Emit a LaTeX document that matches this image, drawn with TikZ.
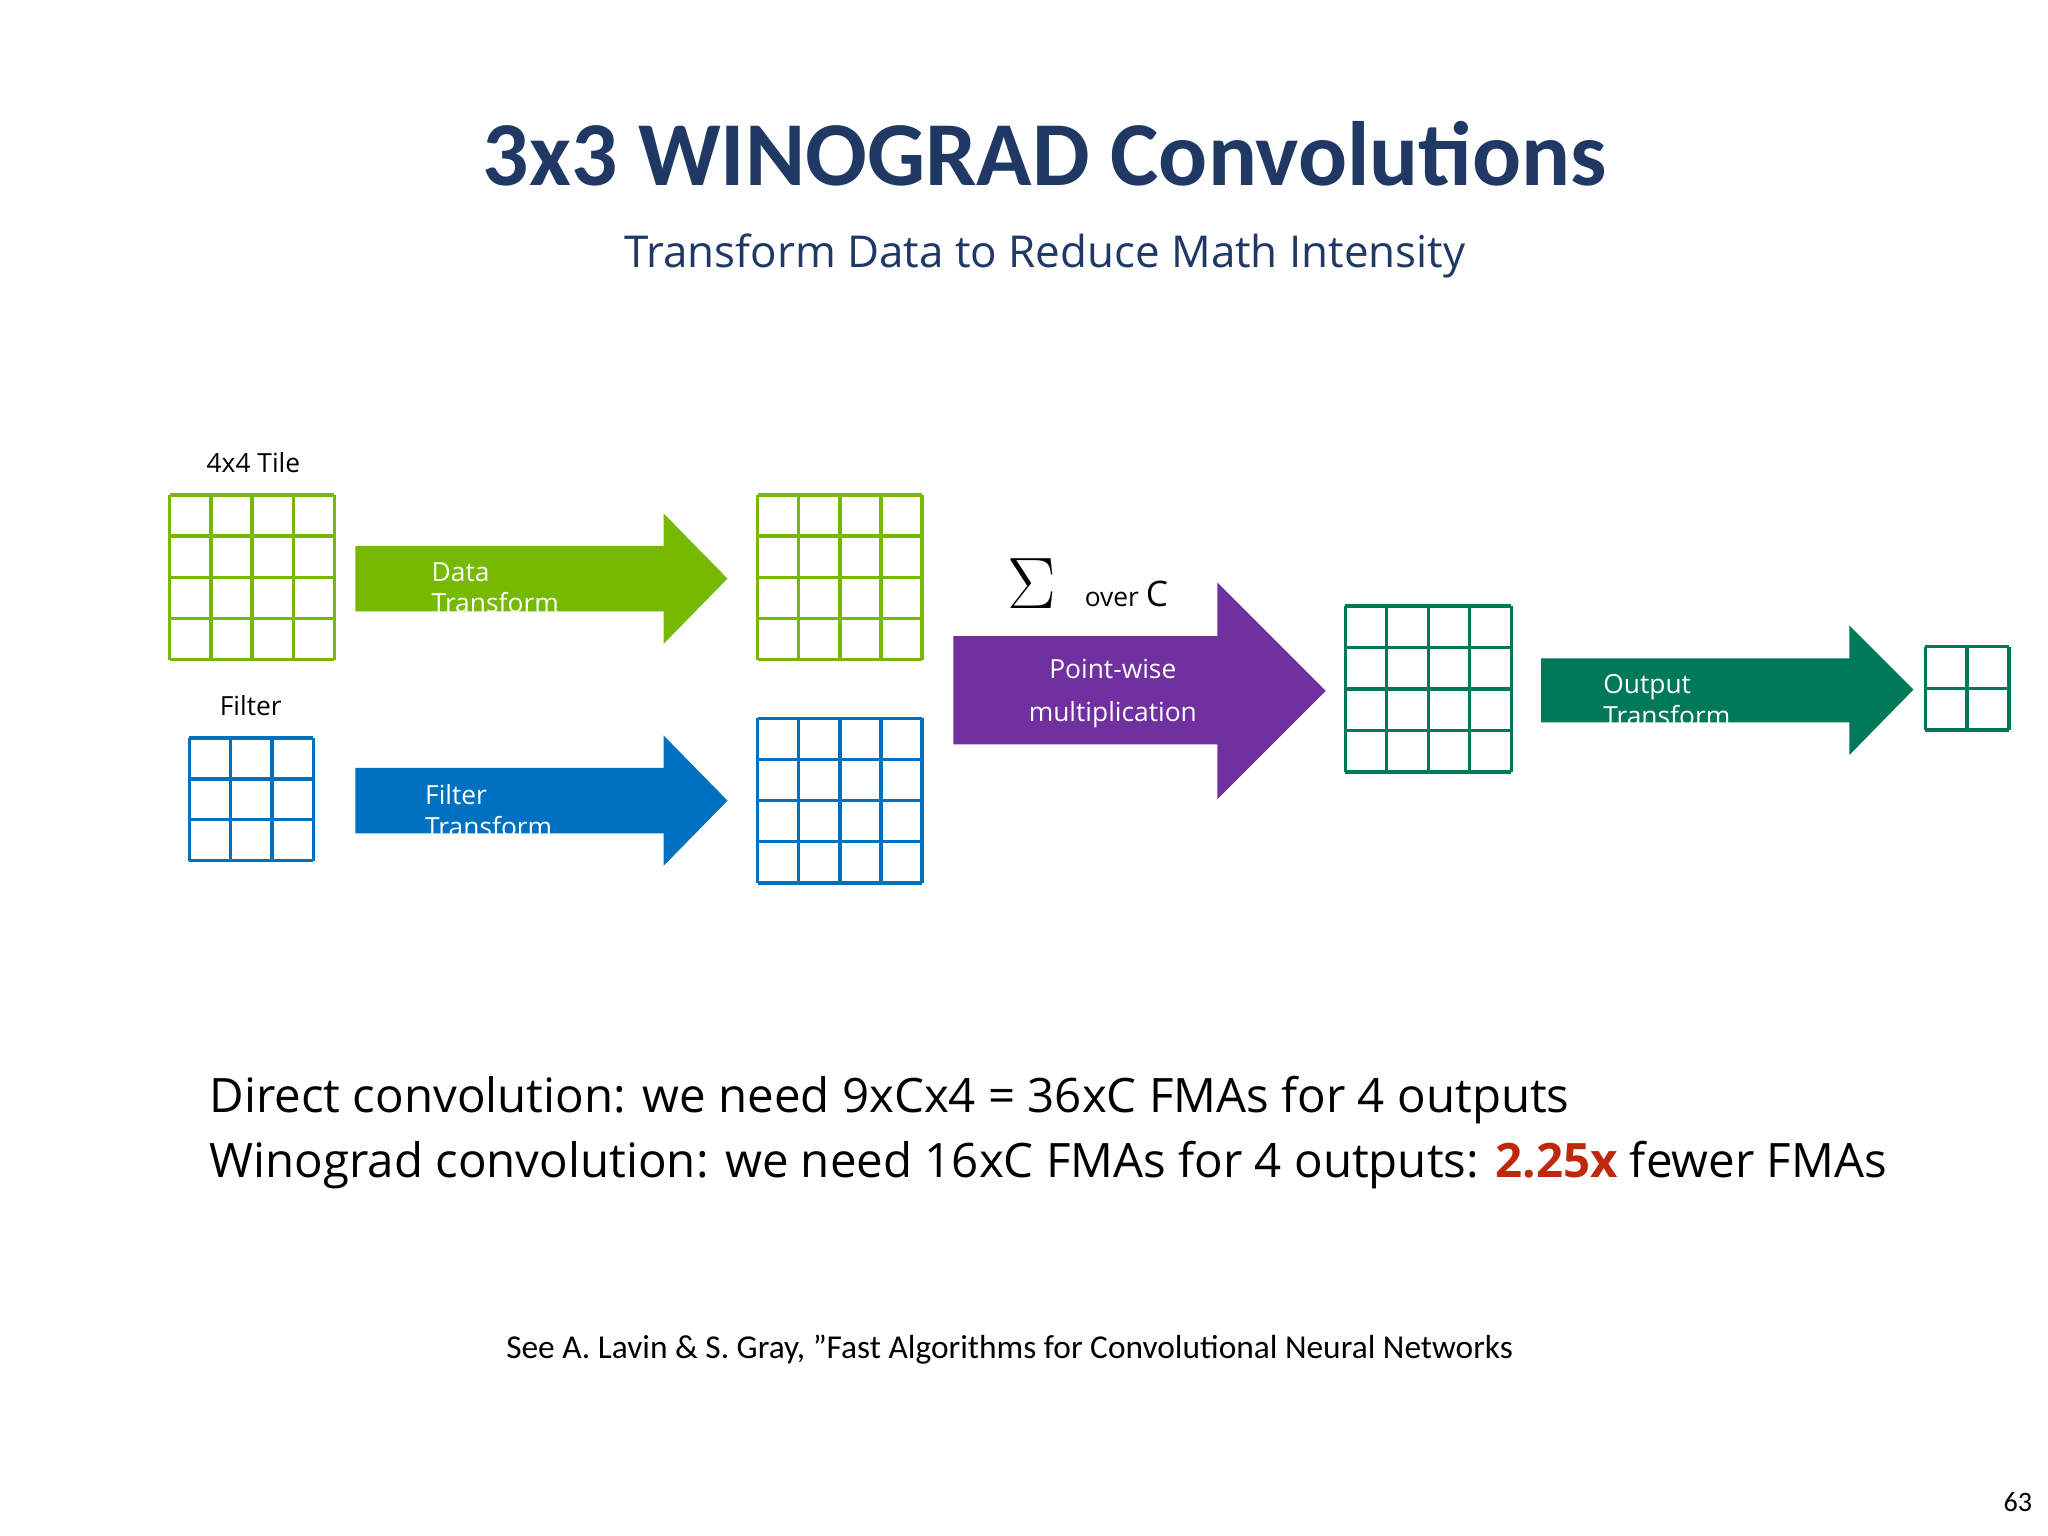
\documentclass[tikz,border=0pt]{standalone}
\usepackage{fontspec}
\setmainfont{Carlito}
\newfontfamily\osans{Open Sans}
\begin{document}
\definecolor{tgreen}{HTML}{76B900}
\definecolor{tblue}{HTML}{0070C0}
\definecolor{tpurple}{HTML}{7030A0}
\definecolor{tdgreen}{HTML}{00795A}
\definecolor{ttitle}{HTML}{1F3864}
\definecolor{tred}{HTML}{C0280E}
\begin{tikzpicture}[x=0.013061cm,y=-0.013061cm,
  gridl/.style={line width=2.6pt*0.37},
  lbl/.style={font=\fontsize{8}{9}\selectfont,text=white,anchor=west,inner sep=0},
  big/.style={font=\osans\fontsize{13.5}{16}\selectfont,anchor=west,inner sep=0}]
\useasboundingbox (0,0) rectangle (1568,1176);
\fill[white] (0,0) rectangle (1568,1176);
\newcommand\mygrid[6]{% x0 y0 x1 y1 n color
  \draw[gridl,#6] (#1,#2) grid[xstep={(#3-#1)/#5},ystep={(#4-#2)/#5}] (#3,#4);
  \draw[gridl,#6] (#1,#2) rectangle (#3,#4);}
\node[font=\bfseries\fontsize{26}{30}\selectfont,text=ttitle] (title) at (800,118) {3x3 WINOGRAD Convolutions};
\node[font=\osans\fontsize{12.5}{15}\selectfont,text=ttitle] (sub) at (800,196) {Transform Data to Reduce Math Intensity};
\node[font=\osans\fontsize{7.5}{9}\selectfont] (tile) at (194,354) {4x4 Tile};
\node[font=\osans\fontsize{7.5}{9}\selectfont] (filt) at (192,540) {Filter};
% grids
\foreach \a/\b/\c/\d/\n/\col in {130/379/256/505/4/tgreen,580/379/706/505/4/tgreen,145/565/240/659/3/tblue,580/550/706/676/4/tblue,1030/464/1157/591/4/tdgreen,1474/495/1538/559/2/tdgreen}{
  \begin{scope}[shift={(\a,\b)}]
  \pgfmathsetmacro\w{\c-\a}\pgfmathsetmacro\h{\d-\b}
  \foreach \i in {0,...,\n}{
    \draw[gridl,\col] ({\i*\w/\n},0) -- ({\i*\w/\n},\h);
    \draw[gridl,\col] (0,{\i*\h/\n}) -- (\w,{\i*\h/\n});}
  \end{scope}}
% arrows
\fill[tgreen] (272,418) -- (508,418) -- (508,393) -- (557,443) -- (508,493) -- (508,468) -- (272,468) -- cycle;
\fill[tblue] (272,588) -- (508,588) -- (508,563) -- (557,613) -- (508,663) -- (508,638) -- (272,638) -- cycle;
\fill[tpurple] (730,487) -- (932,487) -- (932,446) -- (1015,529) -- (932,612) -- (932,570) -- (730,570) -- cycle;
\fill[tdgreen] (1180,504) -- (1416,504) -- (1416,479) -- (1465,528) -- (1416,578) -- (1416,553) -- (1180,553) -- cycle;
\begin{scope}\clip (272,418) rectangle (508,468);
\node[lbl,font=\osans\fontsize{7.5}{9}\selectfont,align=left,anchor=north west] (dt) at (330,430) {Data\\Transform};
\end{scope}
\begin{scope}\clip (272,588) rectangle (508,638);
\node[lbl,font=\osans\fontsize{7.5}{9}\selectfont,align=left,anchor=north west] (ft) at (325,600) {Filter\\Transform};
\end{scope}
\begin{scope}\clip (1180,504) rectangle (1416,553);
\node[lbl,font=\osans\fontsize{7.5}{9}\selectfont,align=left,anchor=north west] (ot) at (1227,516) {Output\\Transform};
\end{scope}
\node[font=\osans\fontsize{7.5}{12}\selectfont,text=white,align=center] (pw) at (852,531) {Point-wise\\multiplication};
\node[font=\fontsize{22}{24}\selectfont,inner sep=0] (sig) at (790,447) {$\Sigma$};
\node[font=\osans\fontsize{7.5}{9}\selectfont,anchor=base west,inner sep=0] (over) at (830,464) {over {\fontsize{10}{11}\selectfont C}};
\node[big] (l1) at (160,842) {Direct convolution: we need 9xCx4 = 36xC FMAs for 4 outputs};
\node[big] (l2) at (160,892) {Winograd convolution: we need 16xC FMAs for 4 outputs: \textcolor{tred}{\bfseries 2.25x} fewer FMAs};
\node[font=\fontsize{9.5}{11}\selectfont] (ref) at (773,1033) {See A. Lavin \& S. Gray, ”Fast Algorithms for Convolutional Neural Networks};
\node[font=\fontsize{8}{9}\selectfont] (pg) at (1545,1150) {63};
\end{tikzpicture}
\end{document}
